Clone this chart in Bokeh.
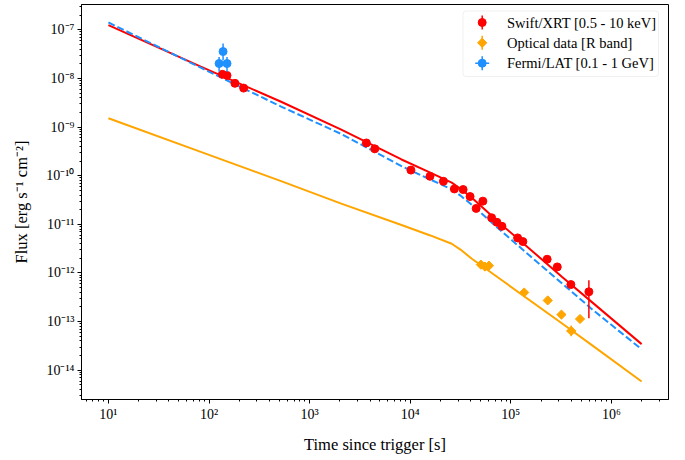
import numpy as np
from bokeh.plotting import figure
from bokeh.models import (ColumnDataSource, FixedTicker, CustomJSTickFormatter,
                          Range1d, LinearScale, BoxAnnotation, Label)
from bokeh.embed import file_html
from bokeh.resources import INLINE

# ---------------- data ----------------
# Swift/XRT [0.5 - 10 keV]
xrt_t = [136, 151, 181, 221, 3670, 4450, 10170, 15740, 21400, 27500, 33600,
         39400, 45300, 52800, 64500, 72800, 81700, 117000, 132000, 230000,
         290000, 396000, 598000]
xrt_f = [1.21e-8, 1.15e-8, 7.9e-9, 6.3e-9, 4.7e-10, 3.56e-10, 1.3e-10,
         9.7e-11, 7.65e-11, 5.33e-11, 5.18e-11, 3.72e-11, 2.12e-11, 2.99e-11,
         1.36e-11, 1.1e-11, 9.1e-12, 5.25e-12, 4.41e-12, 1.91e-12, 1.33e-12,
         5.77e-13, 4.1e-13]
xrt_f_lo = [1.15e-8, 1.09e-8, 7.5e-9, 6.0e-9, 4.45e-10, 3.38e-10, 1.23e-10,
            9.2e-11, 7.25e-11, 5.05e-11, 4.9e-11, 3.52e-11, 2.0e-11, 2.83e-11,
            1.28e-11, 1.04e-11, 8.6e-12, 4.9e-12, 4.1e-12, 1.75e-12, 1.2e-12,
            5.1e-13, 1.17e-13]
xrt_f_hi = [1.27e-8, 1.21e-8, 8.3e-9, 6.6e-9, 4.95e-10, 3.74e-10, 1.37e-10,
            1.02e-10, 8.05e-11, 5.6e-11, 5.45e-11, 3.92e-11, 2.24e-11, 3.15e-11,
            1.44e-11, 1.16e-11, 9.6e-12, 5.6e-12, 4.7e-12, 2.07e-12, 1.46e-12,
            6.5e-13, 7.06e-13]

# Optical data [R band]
opt_t = [50500, 55300, 60700, 136000, 233000, 319000, 399000, 488000]
opt_f = [1.48e-12, 1.35e-12, 1.41e-12, 3.96e-13, 2.72e-13, 1.39e-13,
         6.43e-14, 1.13e-13]
opt_f_lo = [1.48e-12, 1.35e-12, 1.41e-12, 3.96e-13, 2.72e-13, 1.39e-13,
            5.0e-14, 1.13e-13]
opt_f_hi = [1.48e-12, 1.35e-12, 1.41e-12, 3.96e-13, 2.72e-13, 1.39e-13,
            8.3e-14, 1.13e-13]
opt_t_lo = [50500, 55300, 60700, 136000, 233000, 319000, 361000, 488000]
opt_t_hi = [50500, 55300, 60700, 136000, 233000, 319000, 441000, 488000]

# Fermi/LAT [0.1 - 1 GeV]
lat_t = [126, 138, 151]
lat_f = [2.02e-8, 3.56e-8, 2.02e-8]
lat_f_lo = [1.36e-8, 2.36e-8, 1.36e-8]
lat_f_hi = [2.76e-8, 5.18e-8, 2.76e-8]
lat_t_lo = [121, 133, 146]
lat_t_hi = [131, 143, 156]

# model curves
model_t = [10, 82.8, 521, 2065, 8200, 15850, 25880, 31620, 41020, 81660,
           324300, 645700, 2.0e6]
model_xrt = [1.24e-7, 1.74e-8, 3.31e-9, 8.81e-10, 2.15e-10, 1.15e-10,
             7.19e-11, 5.37e-11, 3.51e-11, 9.68e-12, 8.28e-13, 2.48e-13,
             3.44e-14]
model_lat = [1.41e-7, 1.66e-8, 2.63e-9, 7.19e-10, 1.57e-10, 8.32e-11,
             5.22e-11, 3.89e-11, 2.51e-11, 7.06e-12, 6.03e-13, 1.78e-13,
             2.69e-14]
model_opt = [1.51e-9, 3.08e-10, 7.71e-11, 2.66e-11, 9.68e-12, 5.90e-12,
             3.98e-12, 3.02e-12, 1.96e-12, 7.06e-13, 9.12e-14, 3.24e-14,
             5.86e-15]

x_ticks = [1e1, 1e2, 1e3, 1e4, 1e5, 1e6]
y_ticks = [1e-14, 1e-13, 1e-12, 1e-11, 1e-10, 1e-9, 1e-8, 1e-7]
x_title = "Time since trigger [s]"
y_title = "Flux [erg s\u207b\u00b9 cm\u207b\u00b2]"
labels = ["Swift/XRT [0.5 - 10 keV]", "Optical data [R band]",
          "Fermi/LAT [0.1 - 1 GeV]"]

RED = "#ff0000"
ORANGE = "#ffa500"
BLUE = "#1e90ff"
FONT = "Liberation Serif"

W, H = 680, 458
BL, BR, BT, BB = 81, 12, 4, 59
FW, FH = W - BL - BR, H - BT - BB   # frame size in px

p = figure(width=W, height=H, x_axis_type="log", y_axis_type="log",
           x_range=Range1d(5.4, 3.7e6), y_range=Range1d(2.5e-15, 3.3e-7),
           output_backend="svg", toolbar_location=None,
           min_border_left=BL, min_border_right=BR, min_border_top=BT,
           min_border_bottom=BB)
p.grid.visible = False
p.outline_line_color = "black"
p.outline_line_alpha = 1.0
p.outline_line_width = 1
p.background_fill_color = "white"
p.border_fill_color = "white"

# pixel-based ranges for the hand-built legend
p.extra_x_ranges = {"lx": Range1d(0, FW)}
p.extra_y_ranges = {"ly": Range1d(0, FH)}
p.extra_x_scales = {"lx": LinearScale()}
p.extra_y_scales = {"ly": LinearScale()}

x_minor = [m * 10.0 ** k for k in range(0, 7) for m in range(2, 10)]
y_minor = [m * 10.0 ** k for k in range(-15, -6) for m in range(2, 10)]
p.xaxis.ticker = FixedTicker(ticks=x_ticks, minor_ticks=x_minor)
p.yaxis.ticker = FixedTicker(ticks=y_ticks, minor_ticks=y_minor)

sup_code = """
const sup = {"-": "\u207b", "0": "\u2070", "1": "\u00b9", "2": "\u00b2",
             "3": "\u00b3", "4": "\u2074", "5": "\u2075", "6": "\u2076",
             "7": "\u2077", "8": "\u2078", "9": "\u2079"};
const e = Math.round(Math.log10(tick));
return "10" + String(e).split("").map(c => sup[c]).join("");
"""
for ax in (p.xaxis[0], p.yaxis[0]):
    ax.formatter = CustomJSTickFormatter(code=sup_code)
    ax.axis_line_color = "black"
    ax.major_tick_line_color = "black"
    ax.minor_tick_line_color = "black"
    ax.major_tick_out = 4
    ax.major_tick_in = 0
    ax.minor_tick_out = 2
    ax.minor_tick_in = 0
    ax.major_label_text_font = FONT
    ax.major_label_text_font_size = "14px"
    ax.major_label_text_color = "black"
    ax.axis_label_text_font = FONT
    ax.axis_label_text_font_size = "16.5px"
    ax.axis_label_text_font_style = "normal"
    ax.axis_label_text_color = "black"

p.xaxis.axis_label = x_title
p.yaxis.axis_label = y_title
p.xaxis.major_label_standoff = 3
p.xaxis.axis_label_standoff = 10
p.yaxis.major_label_standoff = 3
p.yaxis.axis_label_standoff = 12

# model lines
p.line(model_t, model_xrt, line_color=RED, line_width=2)
p.line(model_t, model_lat, line_color=BLUE, line_width=2, line_dash="7 3")
p.line(model_t, model_opt, line_color=ORANGE, line_width=2)

# Swift/XRT
src_x = ColumnDataSource(dict(t=xrt_t, f=xrt_f, lo=xrt_f_lo, hi=xrt_f_hi))
p.segment(x0="t", y0="lo", x1="t", y1="hi", source=src_x,
          line_color=RED, line_width=1.5)
p.scatter("t", "f", source=src_x, marker="circle", size=8,
          fill_color=RED, line_color=RED)

# Optical
src_o = ColumnDataSource(dict(t=opt_t, f=opt_f, lo=opt_f_lo, hi=opt_f_hi,
                              tlo=opt_t_lo, thi=opt_t_hi))
p.segment(x0="t", y0="lo", x1="t", y1="hi", source=src_o,
          line_color=ORANGE, line_width=1.5)
p.segment(x0="tlo", y0="f", x1="thi", y1="f", source=src_o,
          line_color=ORANGE, line_width=1.5)
p.scatter("t", "f", source=src_o, marker="square", angle=np.pi / 4,
          size=6.5, fill_color=ORANGE, line_color=ORANGE)

# Fermi/LAT
src_l = ColumnDataSource(dict(t=lat_t, f=lat_f, lo=lat_f_lo, hi=lat_f_hi,
                              tlo=lat_t_lo, thi=lat_t_hi))
p.segment(x0="t", y0="lo", x1="t", y1="hi", source=src_l,
          line_color=BLUE, line_width=1.5)
p.segment(x0="tlo", y0="f", x1="thi", y1="f", source=src_l,
          line_color=BLUE, line_width=1.5)
p.scatter("t", "f", source=src_l, marker="circle", size=8,
          fill_color=BLUE, line_color=BLUE)

# ---------------- legend (drawn in frame pixel coordinates) ----------------
box = BoxAnnotation(left=381.5, right=577, bottom=323, top=388.5,
                    x_range_name="lx", y_range_name="ly",
                    fill_color="white", fill_alpha=0.8,
                    line_color="#cccccc", line_width=1, level="underlay",
                    border_radius=3)
p.add_layout(box)

gx = 400.7
tx = 425.5
rows = [377, 356.7, 336.3]
bar = 7
kw = dict(x_range_name="lx", y_range_name="ly")
# red: circle + vertical bar
p.segment([gx], [rows[0] - bar], [gx], [rows[0] + bar], line_color=RED,
          line_width=1.5, **kw)
p.scatter([gx], [rows[0]], marker="circle", size=8, fill_color=RED,
          line_color=RED, **kw)
# orange: diamond + vertical bar
p.segment([gx], [rows[1] - bar], [gx], [rows[1] + bar], line_color=ORANGE,
          line_width=1.5, **kw)
p.scatter([gx], [rows[1]], marker="square", angle=np.pi / 4, size=6.5,
          fill_color=ORANGE, line_color=ORANGE, **kw)
# blue: circle + cross bars
p.segment([gx, gx - bar], [rows[2] - bar, rows[2]], [gx, gx + bar],
          [rows[2] + bar, rows[2]], line_color=BLUE, line_width=1.5, **kw)
p.scatter([gx], [rows[2]], marker="circle", size=8, fill_color=BLUE,
          line_color=BLUE, **kw)

for lab, ry in zip(labels, rows):
    p.add_layout(Label(x=tx, y=ry, text=lab, text_baseline="middle",
                       text_align="left", text_font=FONT,
                       text_font_size="14.5px", text_color="black", **kw))

open("out.html", "w").write(file_html(p, INLINE))
